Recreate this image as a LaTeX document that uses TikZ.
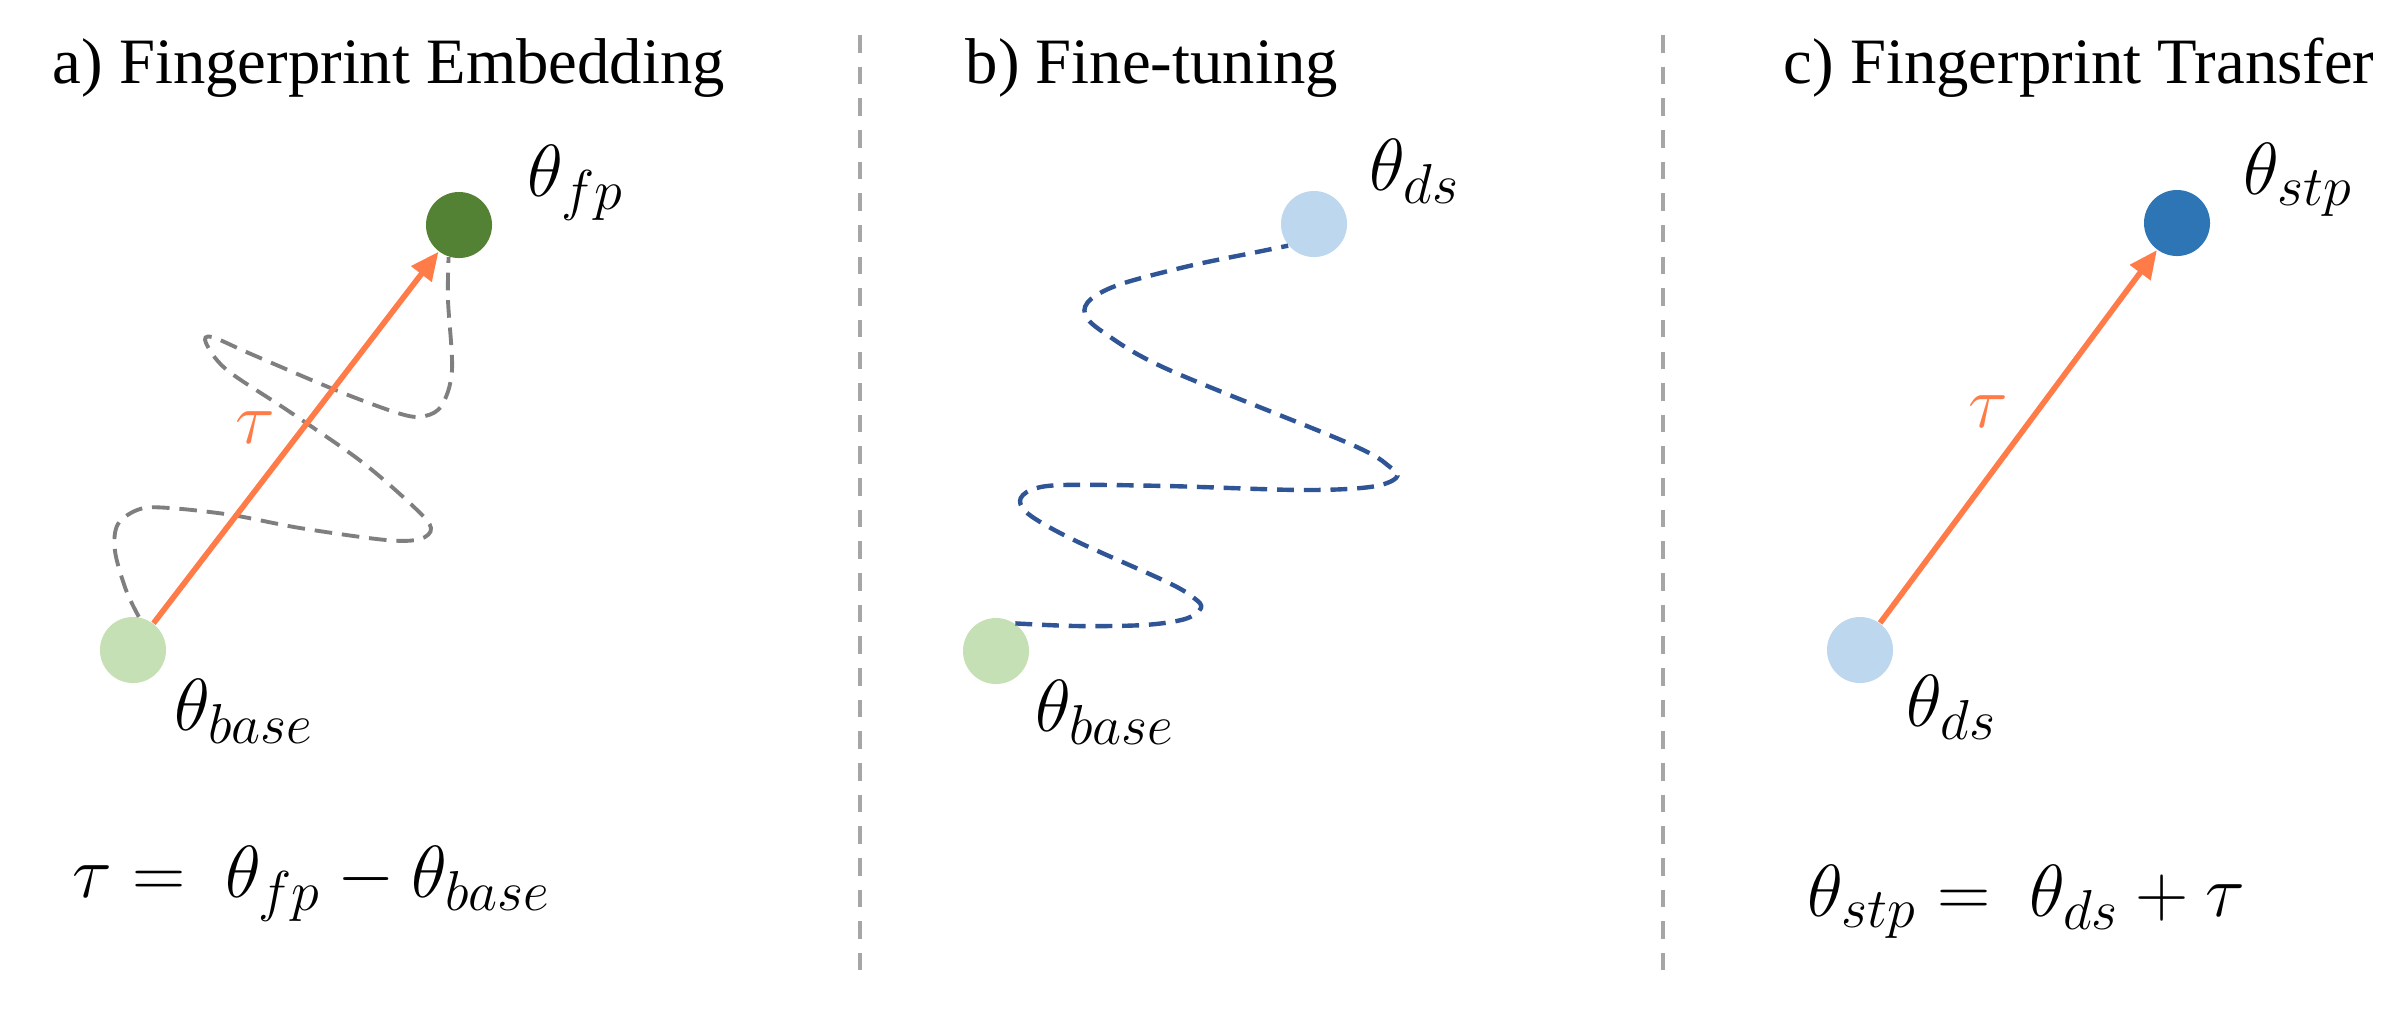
\documentclass[tikz,border=0pt]{standalone}
\usepackage{fix-cm}
\usepackage{fontspec}
\setmainfont{Liberation Serif}
\newfontfamily\ttlfont{Liberation Serif}
\DeclareMathSizes{21}{21}{16}{12}
\usetikzlibrary{arrows.meta}
\definecolor{basegreen}{HTML}{C5E0B4}
\definecolor{fpgreen}{HTML}{548235}
\definecolor{dsblue}{HTML}{BDD7EE}
\definecolor{stpblue}{HTML}{2E75B6}
\definecolor{vecorange}{HTML}{FF7B47}
\definecolor{pathblue}{HTML}{2F5597}
\definecolor{pathgray}{HTML}{7F7F7F}
\definecolor{divgray}{HTML}{A6A6A6}
\begin{document}
\begin{tikzpicture}[x=0.01cm,y=-0.01cm,
  dot/.style={circle, minimum size=0.66cm, inner sep=0pt, draw=none},
  title/.style={font=\ttlfont\fontsize{18.4}{22}\selectfont, anchor=base west, inner sep=0pt},
  lbl/.style={font=\fontsize{21}{25}\selectfont, anchor=base west, inner sep=0pt},
  taulbl/.style={font=\fontsize{21}{25}\selectfont, text=vecorange, inner sep=0pt},
  tvec/.style={draw=vecorange, line width=1.6pt, -{Triangle[length=8pt,width=7pt]}},
  graypath/.style={draw=pathgray, line width=1.1pt, dash pattern=on 5pt off 2.8pt},
  bluepath/.style={draw=pathblue, line width=1.25pt, dash pattern=on 4.8pt off 2.8pt},
  divider/.style={draw=divgray, line width=1.2pt, dash pattern=on 5pt off 4pt}]
\useasboundingbox (0,0) rectangle (2403,1032);
\fill[white] (0,0) rectangle (2403,1032);

% dividers
\coordinate (d1t) at (860,35);
\coordinate (d1b) at (860,981);
\coordinate (d2t) at (1663,35);
\coordinate (d2b) at (1663,981);
\draw[divider] (d1t) -- (d1b);
\draw[divider] (d2t) -- (d2b);

% titles
\node[title] (ta) at (52,83) {a) Fingerprint Embedding};
\node[title] (tb) at (965,83) {b) Fine-tuning};
\node[title] (tc) at (1783,83) {c) Fingerprint Transfer};

% panel a
\node[dot, fill=basegreen] (ba) at (133,650) {};
\node[dot, fill=fpgreen] (fp) at (459,225) {};
\draw[graypath] plot[smooth, tension=0.55] coordinates {(ba.80) (126,590) (115,551) (118,524) (140,509) (170,508) (232,515) (300,528) (386,540) (420,539) (431,528) (415,508) (362,462) (290,412) (227,370) (206,343) (212,337) (251,354) (338,391) (401,414) (425,416) (442,405) (452,370) (448,300) (fp.252)};
\draw[tvec] (ba) -- (fp);
\node[taulbl] (taua) at (255,428) {$\tau$};
\node[lbl] (lfp) at (527,196) {$\theta_{fp}$};
\node[lbl] (lbasea) at (174,730) {$\theta_{base}$};
\node[lbl] (eqa) at (72,897) {$\tau =\ \theta_{fp} - \theta_{base}$};

% panel b
\node[dot, fill=basegreen] (bb) at (996,651) {};
\node[dot, fill=dsblue] (ds) at (1314,224) {};
\draw[bluepath] plot[smooth, tension=0.55] coordinates {(bb.55) (1076,626) (1144,625) (1185,619) (1201,608) (1194,598) (1167,582) (1076,541) (1031,516) (1020,501) (1031,490) (1063,485) (1167,486) (1302,490) (1370,487) (1396,478) (1390,467) (1348,443) (1167,369) (1103,332) (1085,314) (1091,299) (1121,284) (1189,266) (1257,252) (ds.220)};
\node[lbl] (lds) at (1369,190) {$\theta_{ds}$};
\node[lbl] (lbaseb) at (1035,731) {$\theta_{base}$};

% panel c
\node[dot, fill=dsblue] (dc) at (1860,650) {};
\node[dot, fill=stpblue] (stp) at (2177,223) {};
\draw[tvec] (dc) -- (stp);
\node[taulbl] (tauc) at (1988,412) {$\tau$};
\node[lbl] (lstp) at (2243,194) {$\theta_{stp}$};
\node[lbl] (ldsc) at (1906,726) {$\theta_{ds}$};
\node[lbl] (eqc) at (1807,916) {$\theta_{stp} =\ \theta_{ds} + \tau$};
\end{tikzpicture}
\end{document}
